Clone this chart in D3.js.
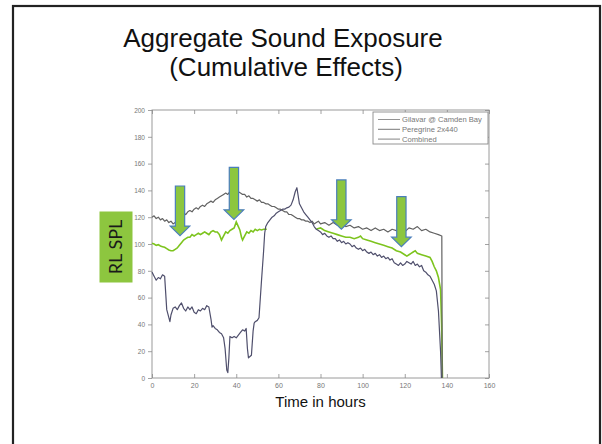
<!DOCTYPE html>
<html><head><meta charset="utf-8">
<script src="https://cdn.jsdelivr.net/npm/d3@7"></script>
<style>body{margin:0;background:#fff}svg{display:block}</style>
</head><body>
<svg id="c" width="602" height="444"></svg>
<script>
const titleLines = ["Aggregate Sound Exposure", "(Cumulative Effects)"];
const xLabel = "Time in hours";
const yLabel = "RL SPL";
const xTicks = [0,20,40,60,80,100,120,140,160];
const yTicks = [0,20,40,60,80,100,120,140,160,180,200];
const seriesNames = ["Gilavar @ Camden Bay", "Peregrine 2x440", "Combined"];

const gilavar = [[0,120],[1,121],[2,119],[3,120],[4,118],[5,119],[6,117],[7,118],[8,116],[9,117],[10,115],[11,116],[12,118],[13,120],[14,121],[15,123],[16,122],[17,124],[18,125],[19,124],[20,126],[21,127],[22,126],[23,128],[24,129],[25,128],[26,130],[27,131],[28,132],[29,131],[30,133],[31,134],[32,135],[33,136],[34,137],[35,138],[36,137],[37,139],[38,140],[39,139],[40,140],[41,139],[42,138],[43,137],[44,137],[45,135],[46,136],[47,134],[48,134],[49,133],[50,132],[51,133],[52,131],[53,131],[54,130],[55,130],[56,129],[57,128],[58,128],[59,127],[60,126],[61,126],[62,125],[63,124],[64,124],[65,122],[66,122],[67,121],[68,120],[69,119],[70,119],[71,118],[72,118],[73,117],[74,117],[75,116],[76,117],[77,115],[78,116],[79,117],[80,115],[82,116],[84,114],[86,116],[88,114],[90,115],[92,113],[94,114],[96,112],[98,113],[100,111],[102,112],[104,110],[106,112],[108,110],[110,111],[112,109],[114,111],[116,110],[118,111],[120,109],[122,112],[124,111],[126,113],[128,110],[130,111],[132,109],[134,108],[136,107],[137.6,106],[137.8,0]];

const peregrine = [[0,79],[1,76],[2,73],[3,75],[4,74],[5,77],[6,76],[7,51],[8,45],[8.5,42],[9,47],[10,52],[11,53],[12,51],[13,54],[14,56],[15,52],[16,50],[17,53],[18,51],[19,53],[20,49],[21,48],[22,51],[23,50],[24,52],[25,51],[26,54],[27,53],[28,44],[28.5,38],[29,39],[30,37],[31,36],[32,34],[33,33],[34,30],[34.7,22],[35.5,6],[36,4],[36.5,15],[37,31],[38,30],[39,31],[40,30],[41,32],[42,34],[43,36],[44,35],[44.7,37],[45.3,22],[45.8,15],[46.5,16],[47.2,17],[48,35],[48.5,41],[49,42],[50,43],[50.8,45],[52,73],[53,95],[53.5,108],[54,113],[55,116],[56,118],[57,120],[58,121],[59,123],[60,124],[61,125],[62,126],[63,126],[64,127],[65,127.5],[66,129],[67,133],[68,139],[68.8,142],[70,130],[71,127],[72,124],[73,122],[74,120],[75,118],[76,116],[77,113],[78,111],[79,110],[80,109],[81,107],[82,108],[83,106],[84,105],[85,106],[86,104],[87,104],[88,102],[89,103],[90,101],[91,102],[92,100],[93,101],[94,100],[95,98],[96,99],[97,97],[98,96],[99,97],[100,95],[101,96],[102,94],[103,93],[104,94],[105,92],[106,93],[107,91],[108,92],[109,90],[110,91],[111,89],[112,90],[113,88],[114,89],[115,86],[116,85],[117,84],[118,86],[119,84],[120,85],[121,87],[122,86],[123,85],[124,87],[125,84],[126,85],[127,83],[128,84],[129,80],[130,79],[131,77],[132,76],[133,73],[134,70],[135,65],[136,50],[137,20],[137.4,0]];

const combined = [[0,100.5],[1,100],[2,99],[3,99.5],[4,98.5],[5,98],[6,97.5],[7,96.5],[8,95.5],[9,95],[10,95],[11,96],[12,97],[13,99],[14,101],[15,103],[16,104],[17,105],[18,105],[19,107],[20,106],[21,107],[22,108],[23,107],[24,108],[25,109],[26,108],[27,107],[28,109],[29,110],[30,109],[31,109],[32,107],[33,103],[34,106],[35,109],[36,108],[37,110],[38,111],[39,112],[40,116.5],[41,113],[41.7,110.5],[42.5,105],[43,103],[44,106],[45,109],[46,108],[47,110],[48,109],[49,111],[50,110],[51,111],[52,110.5],[53,111],[54,111],[54.5,111],[55,null],[77,null],[78,111],[79,111.5],[80,112],[81,111],[82,110],[84,109],[86,108],[88,107],[90,106],[92,105],[94,105],[96,104],[98,105],[99,106],[100,104],[102,103],[104,102],[106,101],[108,100],[110,99],[112,98],[114,97],[116,95],[118,94],[120,92],[121,91],[122,92],[123,93],[124,94],[125,95],[126,93],[128,92],[130,91],[132,90],[133,87],[134,83],[135,80],[136,75],[137,66],[137.5,40],[137.9,0]];

// annotation arrows: x position, top of shaft, tip (data units)
const arrows = [[13.3,143.3,106.3],[38.9,157.2,118.4],[89.9,147.8,111],[118.4,135.3,98]];

const svg = d3.select("#c");
const m = {left:152, right:489, top:110, bottom:378};
const x = d3.scaleLinear().domain([0,160]).range([m.left,m.right]);
const y = d3.scaleLinear().domain([0,200]).range([m.bottom,m.top]);

// slide frame
svg.append("rect").attr("x",13).attr("y",6).attr("width",587).attr("height",460)
  .attr("fill","none").attr("stroke","#222").attr("stroke-width",2.2);

// title
svg.append("g").selectAll("text").data(titleLines).join("text")
  .attr("x",(d,i)=> i? 286:283).attr("y",(d,i)=>47+i*29)
  .attr("text-anchor","middle").attr("font-family","Liberation Sans, Arial, sans-serif")
  .attr("font-size",26).attr("fill","#111").text(d=>d);

// axes box
svg.append("rect").attr("x",m.left).attr("y",m.top).attr("width",m.right-m.left).attr("height",m.bottom-m.top)
  .attr("fill","none").attr("stroke","#9a9a9a").attr("stroke-width",1);

const tickCol = "#8a8a8a";
const gx = svg.append("g").attr("transform",`translate(0,${m.bottom})`)
  .call(d3.axisBottom(x).tickValues(xTicks).tickSize(-4).tickPadding(5).tickFormat(d3.format("d")));
const gxt = svg.append("g").attr("transform",`translate(0,${m.top})`)
  .call(d3.axisTop(x).tickValues(xTicks).tickSize(-4).tickFormat(""));
const gy = svg.append("g").attr("transform",`translate(${m.left},0)`)
  .call(d3.axisLeft(y).tickValues(yTicks).tickSize(4).tickPadding(3).tickFormat(d3.format("d")));
const gyr = svg.append("g").attr("transform",`translate(${m.right},0)`)
  .call(d3.axisRight(y).tickValues(yTicks).tickSize(-4).tickFormat(""));
[gx,gxt,gy,gyr].forEach(g=>{
  g.select(".domain").remove();
  g.selectAll("line").attr("stroke",tickCol).attr("stroke-width",0.8);
  g.selectAll("text").attr("fill","#777").attr("font-family","Liberation Sans, Arial, sans-serif");
});
gx.selectAll("text").attr("font-size",7);
gy.selectAll("text").attr("font-size",6.5).attr("dy","0.35em");

// x label
svg.append("text").attr("x",(m.left+m.right)/2).attr("y",407).attr("text-anchor","middle")
  .attr("font-family","Liberation Sans, Arial, sans-serif").attr("font-size",15).attr("fill","#111").text(xLabel);

// lines
const line = d3.line().defined(d=>d[1]!==null).x(d=>x(d[0])).y(d=>y(d[1]));
svg.append("path").datum(combined).attr("d",line).attr("fill","none").attr("stroke","#7dc41e").attr("stroke-width",1.6);
svg.append("path").datum(gilavar).attr("d",line).attr("fill","none").attr("stroke","#626262").attr("stroke-width",1.2).attr("stroke-linejoin","round");
svg.append("path").datum(peregrine).attr("d",line).attr("fill","none").attr("stroke","#4f4f6c").attr("stroke-width",1.2).attr("stroke-linejoin","round");

// legend
const lg = svg.append("g");
lg.append("rect").attr("x",373).attr("y",112).attr("width",115).attr("height",32)
  .attr("fill","#fff").attr("stroke","#8a8a8a").attr("stroke-width",0.9);
const legCols = ["#777","#555","#666"];
seriesNames.forEach((n,i)=>{
  const yy = 119.5 + i*9.8;
  lg.append("line").attr("x1",378).attr("x2",400).attr("y1",yy).attr("y2",yy).attr("stroke",legCols[i]).attr("stroke-width",0.8);
  lg.append("text").attr("x",402).attr("y",yy).attr("dy","0.35em").attr("font-size",7.6)
    .attr("font-family","Liberation Sans, Arial, sans-serif").attr("fill","#777").text(n);
});

// arrows
const sw = 4.65, hw = 9.75, hl = 9.5;
svg.append("g").selectAll("path").data(arrows).join("path")
  .attr("d",d=>{
    const cx = x(d[0]), t = y(d[1]), tip = y(d[2]), hb = tip-hl;
    return `M${cx-sw},${t}L${cx+sw},${t}L${cx+sw},${hb}L${cx+hw},${hb}L${cx},${tip}L${cx-hw},${hb}L${cx-sw},${hb}Z`;
  })
  .attr("fill","#8cc63f").attr("stroke","#4a7ebb").attr("stroke-width",1.2).attr("stroke-linejoin","miter");

// y label box
svg.append("rect").attr("x",99.5).attr("y",211.5).attr("width",33).attr("height",71).attr("fill","#8dc63f");
svg.append("text").attr("transform","translate(116,247) rotate(-90)").attr("text-anchor","middle").attr("dy","0.35em")
  .attr("font-family","Lato, Open Sans, sans-serif").attr("font-size",18).attr("fill","#1a1a1a").text(yLabel);
</script>
</body></html>
